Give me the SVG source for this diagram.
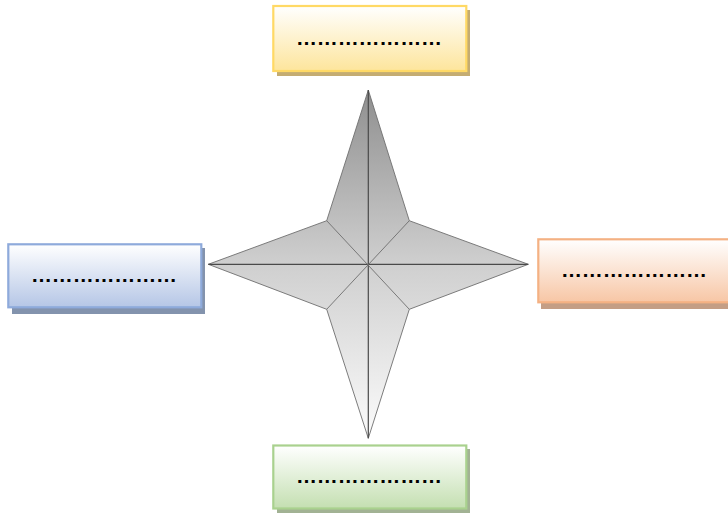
<svg xmlns="http://www.w3.org/2000/svg" width="728" height="513" viewBox="0 0 728 513">
<defs>
<linearGradient id="gStar" x1="0" y1="90" x2="0" y2="438" gradientUnits="userSpaceOnUse">
<stop offset="0" stop-color="#8f8f8f"/><stop offset="0.5" stop-color="#cfcfcf"/><stop offset="1" stop-color="#fbfbfb"/>
</linearGradient>
<linearGradient id="gY" x1="0" y1="0" x2="0" y2="1"><stop offset="0" stop-color="#ffffff"/><stop offset="1" stop-color="#fde59c"/></linearGradient>
<linearGradient id="gB" x1="0" y1="0" x2="0" y2="1"><stop offset="0" stop-color="#ffffff"/><stop offset="1" stop-color="#b5c6e6"/></linearGradient>
<linearGradient id="gO" x1="0" y1="0" x2="0" y2="1"><stop offset="0" stop-color="#ffffff"/><stop offset="1" stop-color="#f7c6a5"/></linearGradient>
<linearGradient id="gG" x1="0" y1="0" x2="0" y2="1"><stop offset="0" stop-color="#ffffff"/><stop offset="1" stop-color="#c4dfb1"/></linearGradient>
</defs>
<style>
.box{stroke-width:2.2}
.lbl{font-family:"Liberation Sans",Arial,sans-serif;font-size:21px;font-weight:bold;fill:#000;text-anchor:middle}
.edge{fill:none;stroke:#6e6e6e;stroke-width:0.9}
.axis{fill:none;stroke:#4a4a4a;stroke-width:1.2}
</style>
<g id="star">
<polygon points="368.3,90 409.3,220.7 528.3,264.3 409.3,309.3 368.3,438.3 326.7,309.3 208.3,264.3 326.7,220.7" fill="url(#gStar)" stroke="#6e6e6e" stroke-width="0.9" stroke-linejoin="round"/>
<g id="connectors">
<path class="axis" d="M368.3,90 L368.3,438.3 M208.3,264.3 L528.3,264.3"/>
<path class="edge" d="M326.7,220.7 L409.3,309.3 M409.3,220.7 L326.7,309.3"/>
</g>
</g>
<g id="node-top">
<rect x="277" y="10" width="193" height="66" fill="#c4ac72"/>
<rect class="box" x="273.3" y="6" width="193" height="65" fill="url(#gY)" stroke="#ffd965"/>
<text class="lbl" x="369" y="44.5" textLength="146" lengthAdjust="spacing">…………………</text>
</g>
<g id="node-left">
<rect x="12" y="248" width="193" height="66" fill="#8393ad"/>
<rect class="box" x="8.3" y="244.3" width="193" height="63" fill="url(#gB)" stroke="#8eaadb"/>
<text class="lbl" x="104" y="282" textLength="146" lengthAdjust="spacing">…………………</text>
</g>
<g id="node-right">
<rect x="541" y="243" width="193" height="66" fill="#c49e85"/>
<rect class="box" x="538.3" y="239.3" width="193" height="63" fill="url(#gO)" stroke="#f4b183"/>
<text class="lbl" x="634" y="277" textLength="146" lengthAdjust="spacing">…………………</text>
</g>
<g id="node-bottom">
<rect x="277" y="449" width="193" height="64" fill="#a2b294"/>
<rect class="box" x="273.3" y="445.5" width="193" height="63" fill="url(#gG)" stroke="#a9d18e"/>
<text class="lbl" x="369" y="483" textLength="146" lengthAdjust="spacing">…………………</text>
</g>
</svg>
